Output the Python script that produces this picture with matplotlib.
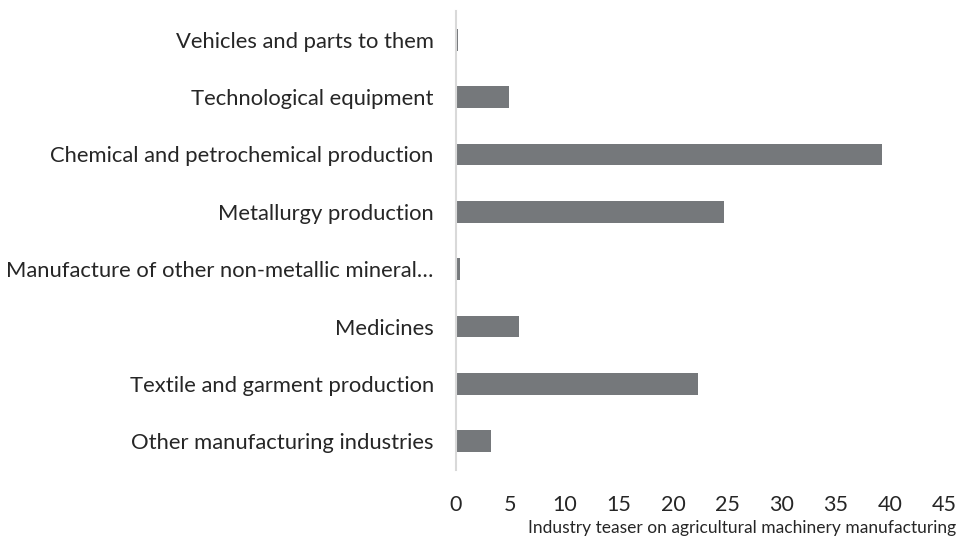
import numpy as np
import matplotlib.pyplot as plt

# data ---------------------------------------------------------------------------------

categories = [
    "Vehicles and parts to them",
    "Technological equipment",
    "Chemical and petrochemical production",
    "Metallurgy production",
    "Manufacture of other non-metallic mineral\u2026",
    "Medicines",
    "Textile and garment production",
    "Other manufacturing industries",
]
values = [0.2, 4.9, 39.3, 24.7, 0.4, 5.8, 22.3, 3.2]
xticks = [0, 5, 10, 15, 20, 25, 30, 35, 40, 45]
xlabel = "Industry teaser on agricultural machinery manufacturing"

# plot ---------------------------------------------------------------------------------

plt.rcParams["font.family"] = ["Lato", "DejaVu Sans"]

fig = plt.figure(figsize=(9.59, 5.43), dpi=100)
ax = fig.add_axes([0.4755, 0.1344, 0.9844 - 0.4755, 0.9797 - 0.1344])

y = np.arange(len(categories))[::-1]
ax.barh(y, values, height=0.38, color="#75787b")

ax.set_xlim(0, 45)
ax.set_ylim(-0.5, len(categories) - 0.5)
ax.set_yticks(y)
ax.set_yticklabels(categories, fontsize=15.8, color="#262626")
ax.set_xticks(xticks)
ax.set_xticklabels([str(t) for t in xticks], fontsize=15.5, color="#262626")
ax.tick_params(axis="both", length=0)
ax.tick_params(axis="y", pad=16)
ax.tick_params(axis="x", pad=18)

for side in ["top", "right", "bottom"]:
    ax.spines[side].set_visible(False)
ax.spines["left"].set_color("#d9d9d9")
ax.spines["left"].set_linewidth(1.5)

fig.text(0.997, 0.012, xlabel, ha="right", va="bottom", fontsize=12.5, color="#262626")

fig.savefig("out.png", dpi=100)
